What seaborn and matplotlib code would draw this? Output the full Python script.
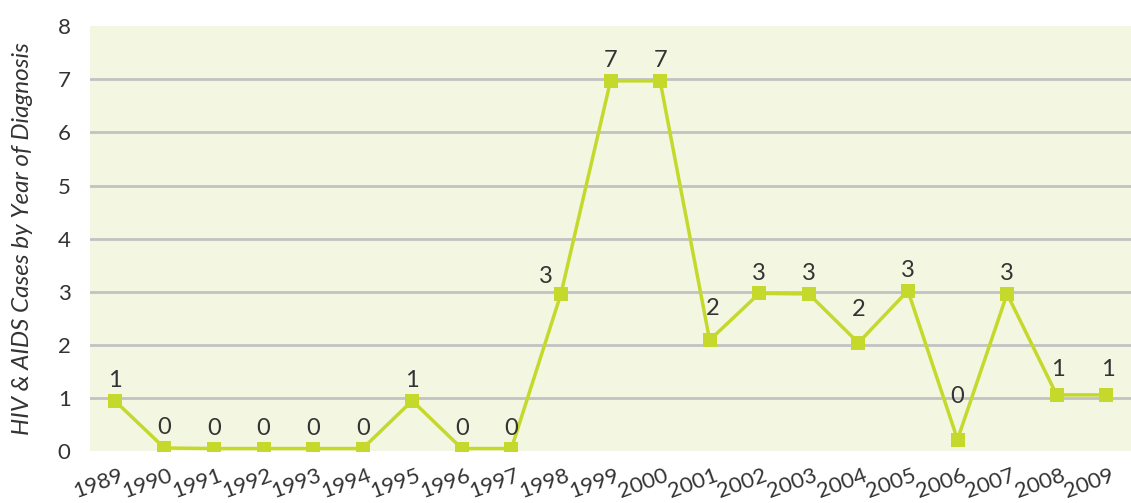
import matplotlib
matplotlib.use("Agg")
import matplotlib.pyplot as plt
import matplotlib.transforms as mtransforms
import seaborn as sns
import numpy as np
import pandas as pd

years = ["1989", "1990", "1991", "1992", "1993", "1994", "1995", "1996", "1997", "1998",
         "1999", "2000", "2001", "2002", "2003", "2004", "2005", "2006", "2007", "2008", "2009"]
cases = [0.95, 0.06, 0.05, 0.05, 0.05, 0.05, 0.95, 0.05, 0.05, 2.96,
         6.97, 6.97, 2.09, 2.97, 2.96, 2.04, 3.02, 0.22, 2.96, 1.06, 1.06]
labels = ["1", "0", "0", "0", "0", "0", "1", "0", "0", "3",
          "7", "7", "2", "3", "3", "2", "3", "0", "3", "1", "1"]

sns.set_theme(style="white")
plt.rcParams["font.family"] = ["Lato", "DejaVu Sans"]

GREEN = "#c5d92d"
TEXT = "#333333"

df = pd.DataFrame({"pos": np.arange(len(years)), "cases": cases})

fig = plt.figure(figsize=(11.31, 5.03), dpi=100)
ax = fig.add_axes([0.0796, 0.103, 0.9204, 0.845])
ax.set_facecolor("#f3f6e1")

for y in range(1, 8):
    ax.axhline(y, color="#c2c2c2", linewidth=2, zorder=1)

sns.lineplot(data=df, x="pos", y="cases", ax=ax, color=GREEN, linewidth=2.5,
             marker="s", markersize=10, markeredgewidth=0, zorder=3)

offsets = {9: (-11, 12.5), 12: (2, 23), 15: (0, 24), 17: (0, 31), 19: (1, 18.5), 20: (1, 18.5)}
for i, (v, lab) in enumerate(zip(cases, labels)):
    dx, dy = offsets.get(i, (0, 14.5))
    ax.annotate(lab, (i, v), xytext=(dx, dy), textcoords="offset points",
                ha="center", va="center", fontsize=17, color=TEXT)

ax.set_xlim(-0.5, len(years) - 0.5)
ax.set_ylim(0, 8)
ax.set_yticks(range(0, 9))
ax.set_yticklabels([str(i) for i in range(0, 9)], fontsize=16, color=TEXT)
ax.tick_params(axis="y", length=0, pad=14)

ax.set_xticks(np.arange(len(years)))
ax.set_xticklabels(years, rotation=20, ha="right", rotation_mode="anchor",
                   fontsize=16, color=TEXT)
ax.tick_params(axis="x", which="major", length=0, pad=10)
ax.set_xticks(np.arange(0.5, len(years) - 1, 1), minor=True)
ax.tick_params(axis="x", which="minor", length=5, width=2, color="#888888", direction="out")

shift = mtransforms.ScaledTranslation(3 / 72, 0, fig.dpi_scale_trans)
for t in ax.get_xticklabels():
    t.set_transform(t.get_transform() + shift)

ax.set_xlabel("")
ax.set_ylabel("HIV & AIDS Cases by Year of Diagnosis", fontsize=17.5, style="italic",
              color=TEXT, labelpad=18)

for s in ax.spines.values():
    s.set_visible(False)

fig.savefig("out.png", dpi=100)
